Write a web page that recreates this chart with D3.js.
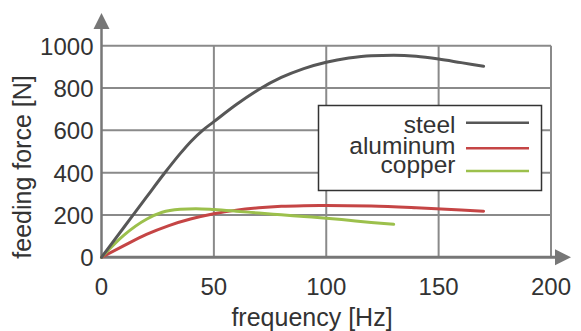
<!DOCTYPE html>
<html><head><meta charset="utf-8">
<script src="https://cdn.jsdelivr.net/npm/d3@7"></script>
<style>
html,body{margin:0;padding:0;background:#fff;}
svg{display:block;font-family:"Liberation Sans",Arial,sans-serif;}
</style></head>
<body><svg id="c" width="581" height="331"></svg>
<script>
const xTicks = [0, 50, 100, 150, 200];
const yTicks = [0, 200, 400, 600, 800, 1000];
const seriesNames = ["steel", "aluminum", "copper"];
const seriesColors = ["#575757", "#c54545", "#9cc04c"];
const steelX = [0, 10, 20, 28, 35, 40, 45, 50, 60, 70, 80, 90, 100, 110, 120, 130, 140, 150, 160, 170];
const steelY = [0, 142, 284, 397, 490, 550, 600, 641, 722, 793, 850, 892, 922, 942, 953, 955, 950, 937, 920, 903];
const aluX = [0, 10, 20, 30, 40, 50, 60, 70, 80, 90, 100, 120, 140, 160, 170];
const aluY = [0, 55, 108, 150, 182, 206, 223, 234, 241, 244, 245, 242, 234, 224, 218];
const copX = [0, 10, 20, 27, 35, 42, 50, 60, 70, 80, 90, 100, 110, 120, 130];
const copY = [0, 105, 180, 213, 227, 230, 226, 218, 209, 201, 193, 185, 175, 165, 156];

const svg = d3.select("#c");
const x = d3.scaleLinear().domain([0, 200]).range([101.5, 551]);
const y = d3.scaleLinear().domain([0, 1000]).range([257.3, 45.7]);
const grid = "#8a8a8a", axisC = "#777", textC = "#333";

// grid
svg.append("g").selectAll("line").data(yTicks.filter(d => d > 0)).join("line")
  .attr("x1", x(0)).attr("x2", x(200)).attr("y1", d => y(d)).attr("y2", d => y(d))
  .attr("stroke", grid).attr("stroke-width", 2);
svg.append("g").selectAll("line").data(xTicks.filter(d => d > 0)).join("line")
  .attr("y1", y(0)).attr("y2", y(1000)).attr("x1", d => x(d)).attr("x2", d => x(d))
  .attr("stroke", grid).attr("stroke-width", 2);

// axes
svg.append("line").attr("x1", x(0)).attr("x2", 560).attr("y1", y(0)).attr("y2", y(0))
  .attr("stroke", axisC).attr("stroke-width", 3);
svg.append("line").attr("x1", x(0)).attr("x2", x(0)).attr("y1", y(0)).attr("y2", 24)
  .attr("stroke", axisC).attr("stroke-width", 2.5);
svg.append("path").attr("d", `M${x(0)},13 L${x(0)-8},29 L${x(0)+8},29 Z`).attr("fill", axisC);
svg.append("path").attr("d", `M571,${y(0)} L555,${y(0)-8} L555,${y(0)+8} Z`).attr("fill", axisC);

// tick labels
svg.append("g").selectAll("text").data(yTicks).join("text")
  .attr("x", 93.5).attr("y", d => y(d) + 9).attr("text-anchor", "end")
  .attr("font-size", 24).attr("fill", textC).text(d => d);
svg.append("g").selectAll("text").data(xTicks).join("text")
  .attr("x", d => x(d)).attr("y", 295).attr("text-anchor", "middle")
  .attr("font-size", 24).attr("fill", textC).text(d => d);

// axis titles
svg.append("text").attr("x", 312).attr("y", 326).attr("text-anchor", "middle")
  .attr("font-size", 25).attr("fill", textC).text("frequency [Hz]");
svg.append("text").attr("transform", "translate(31,167) rotate(-90)").attr("text-anchor", "middle")
  .attr("font-size", 25).attr("fill", textC).text("feeding force [N]");

// lines
const line = d3.line().x(d => x(d[0])).y(d => y(d[1])).curve(d3.curveMonotoneX);
const data = [d3.zip(steelX, steelY), d3.zip(aluX, aluY), d3.zip(copX, copY)];
const order = [1, 2, 0];
order.forEach(i => {
  svg.append("path").attr("d", line(data[i])).attr("fill", "none")
    .attr("stroke", seriesColors[i]).attr("stroke-width", 3).attr("stroke-linecap", "round");
});

// legend
svg.append("rect").attr("x", 318.5).attr("y", 105.5).attr("width", 223).attr("height", 85)
  .attr("fill", "#fff").attr("stroke", "#333").attr("stroke-width", 1.5);
const legY = [122.7, 148.3, 171];
const legT = [133, 154, 173];
seriesNames.forEach((n, i) => {
  svg.append("text").attr("x", 455.5).attr("y", legT[i]).attr("text-anchor", "end")
    .attr("font-size", 24.5).attr("fill", textC).text(n);
  svg.append("line").attr("x1", 466).attr("x2", 529).attr("y1", legY[i]).attr("y2", legY[i])
    .attr("stroke", seriesColors[i]).attr("stroke-width", 2.5);
});
</script></body></html>
